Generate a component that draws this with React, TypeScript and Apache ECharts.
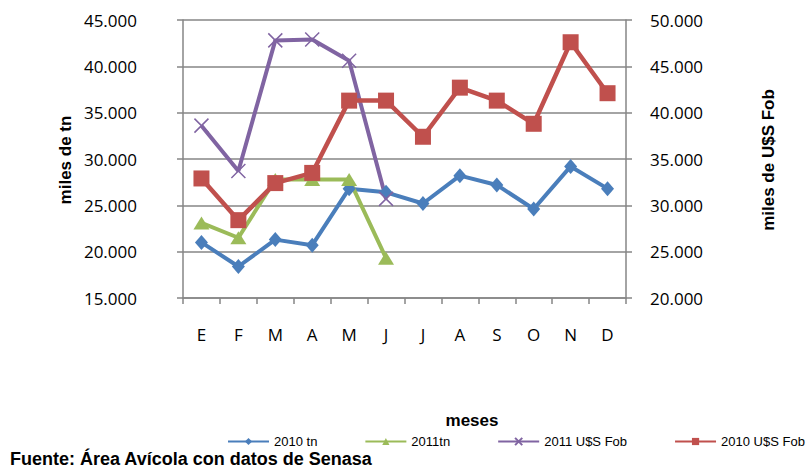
import React, { useEffect, useRef } from "react";
import * as echarts from "echarts";

const months = ["E", "F", "M", "A", "M", "J", "J", "A", "S", "O", "N", "D"];
const tn2010 = [21000, 18400, 21300, 20700, 26800, 26400, 25200, 28200, 27200, 24600, 29200, 26800];
const tn2011 = [23100, 21500, 27800, 27800, 27800, 19300];
const fob2011 = [38600, 33700, 47800, 47900, 45600, 30700];
const fob2010 = [32900, 28400, 32400, 33500, 41300, 41300, 37400, 42700, 41300, 38800, 47600, 42100];
const seriesNames = ["2010 tn", "2011tn", "2011 U$S Fob", "2010 U$S Fob"];

const fmt = (v: number) => {
  const s = String(Math.round(v));
  return s.replace(/\B(?=(\d{3})+(?!\d))/g, ".");
};

const GREY = "#868686";
const tickFont = { fontFamily: "Open Sans", fontSize: 17, color: "#000" };

export default function App() {
  const ref = useRef<HTMLDivElement>(null);
  useEffect(() => {
    if (!ref.current) return;
    const chart = echarts.init(ref.current, undefined, { renderer: "svg" });
    chart.setOption({
      animation: false,
      backgroundColor: "#fff",
      grid: { left: 183, right: 183, top: 20, bottom: 170, containLabel: false },
      legend: {
        data: seriesNames,
        left: 227,
        top: 435,
        padding: 0,
        itemWidth: 41,
        itemHeight: 9,
        itemGap: 47,
        textStyle: { fontFamily: "Liberation Sans", fontSize: 13, color: "#000" },
      },
      xAxis: {
        type: "category",
        data: months,
        boundaryGap: true,
        axisLine: { lineStyle: { color: GREY, width: 1.5 } },
        axisTick: { show: true, length: 6, inside: false, lineStyle: { color: GREY, width: 1.5 } },
        axisLabel: { ...tickFont, margin: 28, interval: 0 },
        splitLine: { show: false },
      },
      yAxis: [
        {
          type: "value",
          position: "left",
          min: 15000,
          max: 45000,
          interval: 5000,
          axisLine: { show: true, lineStyle: { color: GREY, width: 1.5 } },
          axisTick: { show: true, length: 6, lineStyle: { color: GREY, width: 1.5 } },
          axisLabel: { ...tickFont, margin: 46, formatter: (v: number) => fmt(v) },
          splitLine: { show: true, lineStyle: { color: GREY, width: 1.5 } },
        },
        {
          type: "value",
          position: "right",
          min: 20000,
          max: 50000,
          interval: 5000,
          axisLine: { show: true, lineStyle: { color: GREY, width: 1.5 } },
          axisTick: { show: true, length: 6, lineStyle: { color: GREY, width: 1.5 } },
          axisLabel: { ...tickFont, margin: 24, formatter: (v: number) => fmt(v) },
          splitLine: { show: false },
        },
      ],
      series: [
        {
          name: seriesNames[0],
          type: "line",
          yAxisIndex: 0,
          data: tn2010,
          symbol: "diamond",
          symbolSize: [13, 15],
          showAllSymbol: true,
          lineStyle: { color: "#4A7EBB", width: 4 },
          itemStyle: { color: "#4A7EBB" },
        },
        {
          name: seriesNames[1],
          type: "line",
          yAxisIndex: 0,
          data: tn2011,
          symbol: "triangle",
          symbolSize: [16, 13],
          lineStyle: { color: "#9BBB59", width: 4 },
          itemStyle: { color: "#9BBB59" },
        },
        {
          name: seriesNames[2],
          type: "line",
          yAxisIndex: 1,
          data: fob2011,
          symbol: "path://M0,0L10,10M10,0L0,10",
          symbolSize: 14,
          lineStyle: { color: "#8064A2", width: 4 },
          itemStyle: { color: "transparent", borderColor: "#8064A2", borderWidth: 1.5 },
        },
        {
          name: seriesNames[3],
          type: "line",
          yAxisIndex: 1,
          data: fob2010,
          symbol: "rect",
          symbolSize: 16,
          lineStyle: { color: "#C0504D", width: 4.5 },
          itemStyle: { color: "#C0504D" },
        },
      ],
      graphic: [
        {
          type: "text",
          x: 65,
          y: 160,
          rotation: Math.PI / 2,
          style: {
            text: "miles de tn",
            fontFamily: "Liberation Sans",
            fontWeight: "bold",
            fontSize: 17,
            fill: "#000",
            textAlign: "center",
            textVerticalAlign: "middle",
          },
        },
        {
          type: "text",
          x: 768,
          y: 160,
          rotation: Math.PI / 2,
          style: {
            text: "miles de U$S Fob",
            fontFamily: "Liberation Sans",
            fontWeight: "bold",
            fontSize: 17,
            fill: "#000",
            textAlign: "center",
            textVerticalAlign: "middle",
          },
        },
        {
          type: "text",
          x: 472,
          y: 420,
          style: {
            text: "meses",
            fontFamily: "Liberation Sans",
            fontWeight: "bold",
            fontSize: 17,
            fill: "#000",
            textAlign: "center",
            textVerticalAlign: "middle",
          },
        },
        {
          type: "text",
          x: 10,
          y: 459,
          style: {
            text: "Fuente: Área Avícola con datos de Senasa",
            fontFamily: "Liberation Sans",
            fontWeight: "bold",
            fontSize: 18,
            fill: "#000",
            textAlign: "left",
            textVerticalAlign: "middle",
          },
        },
      ],
    });
    return () => chart.dispose();
  }, []);
  return <div ref={ref} style={{ width: 809, height: 468, position: "absolute", left: 0, top: 0 }} />;
}
